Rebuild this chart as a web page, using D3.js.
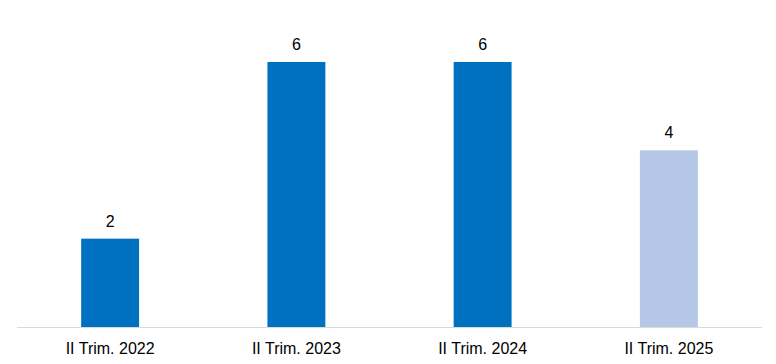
<!DOCTYPE html>
<html><head><meta charset="utf-8">
<script src="https://cdn.jsdelivr.net/npm/d3@7"></script>
<style>body{margin:0;background:#fff}svg{display:block}text{font-family:"Liberation Sans",Arial,sans-serif}</style>
</head><body><svg id="c" width="776" height="364"></svg>
<script>
const categories = ["II Trim. 2022","II Trim. 2023","II Trim. 2024","II Trim. 2025"];
const values = [2,6,6,4];
const colors = ["#0070C0","#0070C0","#0070C0","#B4C7E7"];

(function(){
const svg = d3.select("#c");
const left = 17, right = 762, base = 327, topY = 62;
const x = d3.scaleBand().domain(categories).range([left,right]).paddingInner(0.689).paddingOuter(0.3445);
const y = d3.scaleLinear().domain([0,6]).range([base, topY]);

svg.selectAll("rect.bar").data(values).join("rect")
  .attr("class","bar")
  .attr("x",(d,i)=>x(categories[i]))
  .attr("width",x.bandwidth())
  .attr("y",d=>y(d))
  .attr("height",d=>base-y(d))
  .attr("fill",(d,i)=>colors[i]);

svg.selectAll("text.val").data(values).join("text")
  .attr("class","val")
  .attr("x",(d,i)=>x(categories[i])+x.bandwidth()/2)
  .attr("y",d=>y(d)-12)
  .attr("text-anchor","middle")
  .attr("font-size",16)
  .attr("fill","#000")
  .text(d=>d);

svg.append("line").attr("x1",left).attr("x2",right).attr("y1",base+0.5).attr("y2",base+0.5)
  .attr("stroke","#D9D9D9").attr("stroke-width",1);

svg.selectAll("text.cat").data(categories).join("text")
  .attr("class","cat")
  .attr("x",d=>x(d)+x.bandwidth()/2)
  .attr("y",base+27)
  .attr("text-anchor","middle")
  .attr("font-size",16)
  .attr("fill","#000")
  .text(d=>d);
})();
</script></body></html>
